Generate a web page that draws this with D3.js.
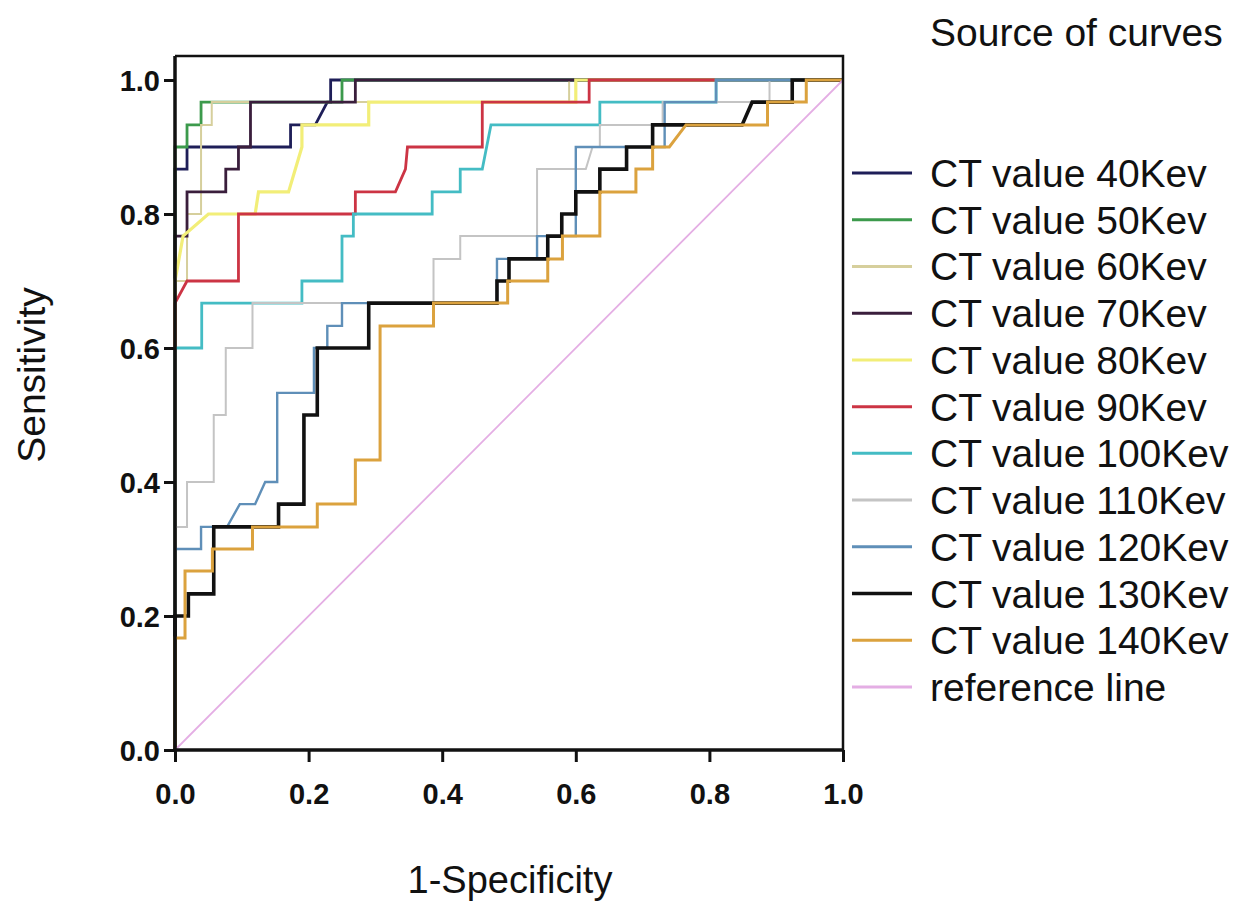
<!DOCTYPE html>
<html>
<head>
<meta charset="utf-8">
<script src="https://cdn.jsdelivr.net/npm/d3@7"></script>
<style>
  body { margin: 0; background: #fff; }
  text { font-family: "Liberation Sans", Arial, sans-serif; fill: #111; }
</style>
</head>
<body>
<script>
// ROC curves, points are [1-specificity, sensitivity]
const ct40 = [[0,0],[0,0.867],[0.018,0.867],[0.018,0.9],[0.173,0.9],[0.173,0.933],[0.21,0.933],[0.228,0.967],[0.233,0.967],[0.233,1],[1,1]];
const ct50 = [[0,0],[0,0.9],[0.018,0.9],[0.018,0.933],[0.039,0.933],[0.039,0.967],[0.25,0.967],[0.25,1],[1,1]];
const ct60 = [[0,0],[0,0.7],[0.018,0.7],[0.018,0.8],[0.039,0.8],[0.039,0.933],[0.055,0.933],[0.055,0.967],[0.59,0.967],[0.59,1],[1,1]];
const ct70 = [[0,0],[0,0.767],[0.018,0.767],[0.018,0.833],[0.076,0.833],[0.076,0.867],[0.095,0.867],[0.095,0.9],[0.113,0.9],[0.113,0.967],[0.27,0.967],[0.27,1],[1,1]];
const ct80 = [[0,0],[0,0.7],[0.006,0.733],[0.012,0.767],[0.05,0.8],[0.12,0.8],[0.125,0.833],[0.17,0.833],[0.19,0.9],[0.19,0.933],[0.29,0.933],[0.29,0.967],[0.6,0.967],[0.6,1],[1,1]];
const ct90 = [[0,0],[0,0.667],[0.018,0.7],[0.095,0.7],[0.095,0.8],[0.27,0.8],[0.27,0.833],[0.33,0.833],[0.345,0.867],[0.348,0.9],[0.46,0.9],[0.46,0.967],[0.62,0.967],[0.62,1],[1,1]];
const ct100 = [[0,0],[0,0.6],[0.04,0.6],[0.04,0.667],[0.19,0.667],[0.19,0.7],[0.25,0.7],[0.25,0.767],[0.267,0.767],[0.267,0.8],[0.385,0.8],[0.385,0.833],[0.427,0.833],[0.427,0.867],[0.46,0.867],[0.473,0.933],[0.636,0.933],[0.636,0.967],[0.81,0.967],[0.81,1],[1,1]];
const ct110 = [[0,0],[0,0.333],[0.018,0.333],[0.018,0.4],[0.058,0.4],[0.058,0.5],[0.076,0.5],[0.076,0.6],[0.116,0.6],[0.116,0.667],[0.387,0.667],[0.387,0.733],[0.427,0.733],[0.427,0.767],[0.542,0.767],[0.542,0.867],[0.615,0.867],[0.625,0.9],[0.636,0.9],[0.636,0.933],[0.73,0.933],[0.73,0.967],[0.89,0.967],[0.89,1],[1,1]];
const ct120 = [[0,0],[0,0.3],[0.039,0.3],[0.039,0.333],[0.078,0.333],[0.097,0.367],[0.12,0.367],[0.135,0.4],[0.153,0.4],[0.153,0.533],[0.208,0.533],[0.208,0.6],[0.228,0.6],[0.228,0.633],[0.25,0.633],[0.25,0.667],[0.482,0.667],[0.482,0.733],[0.542,0.733],[0.542,0.767],[0.6,0.767],[0.6,0.9],[0.733,0.9],[0.733,0.967],[0.81,0.967],[0.81,1],[1,1]];
const ct130 = [[0,0],[0,0.2],[0.02,0.2],[0.02,0.233],[0.058,0.233],[0.058,0.333],[0.155,0.333],[0.155,0.367],[0.193,0.367],[0.193,0.5],[0.213,0.5],[0.213,0.6],[0.29,0.6],[0.29,0.667],[0.482,0.667],[0.482,0.7],[0.5,0.7],[0.5,0.733],[0.558,0.733],[0.558,0.767],[0.579,0.767],[0.579,0.8],[0.6,0.8],[0.6,0.833],[0.636,0.833],[0.636,0.867],[0.676,0.867],[0.676,0.9],[0.715,0.9],[0.715,0.933],[0.849,0.933],[0.864,0.967],[0.924,0.967],[0.924,1],[1,1]];
const ct140 = [[0,0],[0,0.167],[0.015,0.167],[0.015,0.267],[0.056,0.267],[0.056,0.3],[0.116,0.3],[0.116,0.333],[0.213,0.333],[0.213,0.367],[0.27,0.367],[0.27,0.433],[0.307,0.433],[0.307,0.633],[0.387,0.633],[0.387,0.667],[0.498,0.667],[0.498,0.7],[0.558,0.7],[0.558,0.733],[0.58,0.733],[0.58,0.767],[0.636,0.767],[0.636,0.833],[0.69,0.833],[0.69,0.867],[0.715,0.867],[0.715,0.9],[0.74,0.9],[0.765,0.933],[0.887,0.933],[0.887,0.967],[0.945,0.967],[0.945,1],[1,1]];
const refLine = [[0,0],[1,1]];

const seriesNames = ["CT value 40Kev","CT value 50Kev","CT value 60Kev","CT value 70Kev","CT value 80Kev","CT value 90Kev","CT value 100Kev","CT value 110Kev","CT value 120Kev","CT value 130Kev","CT value 140Kev","reference line"];
const seriesData = [ct40, ct50, ct60, ct70, ct80, ct90, ct100, ct110, ct120, ct130, ct140, refLine];
const seriesColors = ["#1e1e58","#3c9a4c","#d6cf9c","#3a1e3c","#f2ee78","#cc3444","#44bcc4","#c4c4c4","#5f8fb8","#111111","#dba23e","#e4aee4"];
const seriesWidths = [2.8,2.8,2,2.8,3.2,2.8,2.8,2,2.4,3.6,3,1.8];
const xTicks = [0, 0.2, 0.4, 0.6, 0.8, 1.0];
const yTicks = [0, 0.2, 0.4, 0.6, 0.8, 1.0];

const width = 1240, height = 901;
const svg = d3.select("body").append("svg")
    .attr("width", width)
    .attr("height", height)
    .attr("xmlns", "http://www.w3.org/2000/svg");

const x = d3.scaleLinear().domain([0, 1]).range([175, 843]);
const y = d3.scaleLinear().domain([0, 1]).range([750, 80]);
const frameTop = 56;

// curves
const line = d3.line().x(d => x(d[0])).y(d => y(d[1]));
const curves = svg.append("g").attr("fill", "none");
seriesData.forEach((pts, i) => {
    curves.append("path")
        .attr("d", line(pts))
        .attr("stroke", seriesColors[i])
        .attr("stroke-width", seriesWidths[i])
        .attr("stroke-linejoin", "miter");
});

// frame
svg.append("path")
    .attr("d", `M${x(0)},${frameTop}H${x(1)}V${y(0)}`)
    .attr("fill", "none").attr("stroke", "#111").attr("stroke-width", 2.5);

// axes
const xAxis = svg.append("g")
    .attr("transform", `translate(0,${y(0)})`)
    .call(d3.axisBottom(x).tickValues(xTicks).tickFormat(d3.format(".1f")).tickSize(12).tickPadding(20));
const yAxis = svg.append("g")
    .attr("transform", `translate(${x(0)},0)`)
    .call(d3.axisLeft(y).tickValues(yTicks).tickFormat(d3.format(".1f")).tickSize(11).tickPadding(4));
[xAxis, yAxis].forEach(g => {
    g.select(".domain").remove();
    g.selectAll("line").attr("stroke", "#111").attr("stroke-width", 3);
    g.selectAll("text")
        .attr("fill", "#111")
        .style("font-family", "'Liberation Sans', Arial, sans-serif")
        .style("font-size", "29px")
        .style("font-weight", "bold");
});
xAxis.selectAll("text").attr("dy", "0.75em");
yAxis.selectAll("text").attr("dy", "0.36em");
svg.append("line").attr("x1", x(0)).attr("x2", x(0)).attr("y1", frameTop).attr("y2", y(0) + 1.5)
    .attr("stroke", "#111").attr("stroke-width", 3.5);
svg.append("line").attr("x1", x(0) - 1.5).attr("x2", x(1)).attr("y1", y(0)).attr("y2", y(0))
    .attr("stroke", "#111").attr("stroke-width", 3.5);

// axis titles
svg.append("text")
    .attr("x", 510).attr("y", 893)
    .attr("text-anchor", "middle")
    .style("font-size", "38px")
    .text("1-Specificity");
svg.append("text")
    .attr("transform", "translate(45,375) rotate(-90)")
    .attr("text-anchor", "middle")
    .style("font-size", "39px")
    .text("Sensitivity");

// legend
svg.append("text")
    .attr("x", 930).attr("y", 46)
    .style("font-size", "39px")
    .text("Source of curves");
const legendY = d3.scalePoint().domain(seriesNames).range([173, 687]);
const legend = svg.append("g");
seriesNames.forEach((name, i) => {
    const yy = legendY(name);
    legend.append("line")
        .attr("x1", 852).attr("x2", 912)
        .attr("y1", yy).attr("y2", yy)
        .attr("stroke", seriesColors[i])
        .attr("stroke-width", i === 9 ? 3.4 : 3);
    legend.append("text")
        .attr("x", 930).attr("y", yy + 14)
        .style("font-size", "39px")
        .text(name);
});
</script>
</body>
</html>
